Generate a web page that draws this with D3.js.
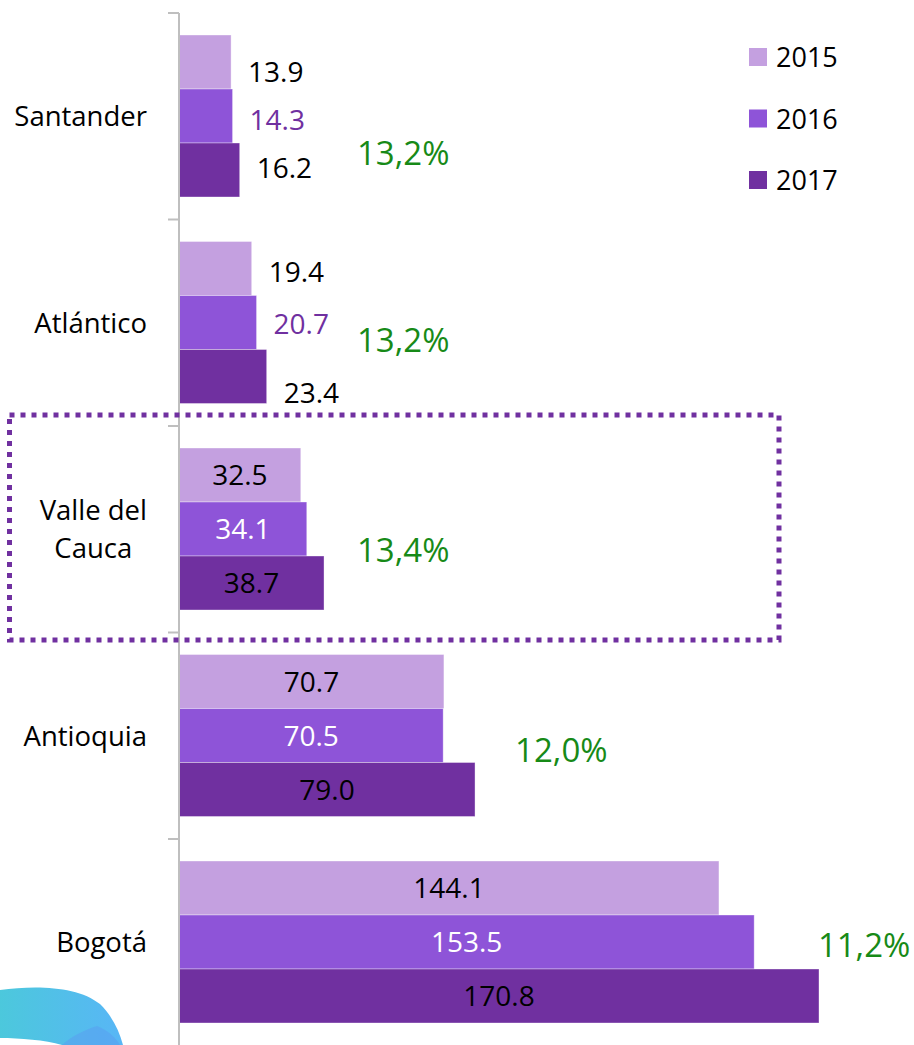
<!DOCTYPE html>
<html><head><meta charset="utf-8">
<script src="https://cdn.jsdelivr.net/npm/d3@7/dist/d3.min.js"></script>
<style>
html,body{margin:0;padding:0;background:#fff;}
svg{display:block;font-family:"Open Sans","Noto Sans",sans-serif;}
</style></head>
<body>
<svg id="chart" width="914" height="1045"></svg>
<script>
// ---- data ----
const categories = ["Santander", "Atlántico", "Valle del Cauca", "Antioquia", "Bogotá"];
const years = ["2015", "2016", "2017"];
const values2015 = [13.9, 19.4, 32.5, 70.7, 144.1];
const values2016 = [14.3, 20.7, 34.1, 70.5, 153.5];
const values2017 = [16.2, 23.4, 38.7, 79.0, 170.8];
const growthLabels = ["13,2%", "13,2%", "13,4%", "12,0%", "11,2%"];
const growthAt = [47.5, 47.5, 47.5, 89.7, 170.5]; // value position of growth label
const highlighted = "Valle del Cauca";

// ---- layout/style ----
const colors = {"2015": "#C4A0E0", "2016": "#8E54D8", "2017": "#7030A0"};
const green = "#178A17";
const svg = d3.select("#chart");

const defs = svg.append("defs");
const grad = defs.append("linearGradient").attr("id", "blob").attr("x1", "0").attr("x2", "1").attr("y1", "0").attr("y2", "0");
grad.append("stop").attr("offset", "0").attr("stop-color", "#4CC8DC");
grad.append("stop").attr("offset", "1").attr("stop-color", "#58B6F6");

// decorative blob bottom-left
svg.append("path")
  .attr("d", "M0,990 C35,985 78,986 100,1004 C112,1016 119,1030 123,1045 L62,1045 C45,1040 20,1038 0,1038 Z")
  .attr("fill", "url(#blob)");
svg.append("path")
  .attr("d", "M62,1045 C72,1036 84,1030 97,1026 C108,1030 116,1038 120,1045 Z")
  .attr("fill", "#5A9FF0").attr("opacity", 0.55);

const x = d3.scaleLinear().domain([0, 170.8]).range([179, 819]);
const y = d3.scaleBand().domain(categories).range([13, 1045.5]).padding(0);
const bw = y.bandwidth();
const inner = d3.scaleBand().domain(years).range([22, bw - 22.5]).padding(0);

const rows = categories.map((c, i) => ({
  cat: c, i,
  vals: [values2015[i], values2016[i], values2017[i]]
}));

// bars
const g = svg.append("g");
rows.forEach(r => {
  years.forEach((yr, j) => {
    g.append("rect")
      .attr("x", x(0))
      .attr("y", y(r.cat) + inner(yr))
      .attr("width", x(r.vals[j]) - x(0))
      .attr("height", inner.bandwidth())
      .attr("fill", colors[yr])
      .attr("stroke", "rgba(255,255,255,0.45)")
      .attr("stroke-width", 0.8);
  });
});

// axis
const axis = svg.append("g").attr("transform", `translate(${x(0)},0)`)
  .call(d3.axisLeft(y).tickValues([]).tickSize(0).tickSizeOuter(0));
axis.select(".domain").remove();
svg.append("line").attr("x1", x(0)).attr("x2", x(0)).attr("y1", 13).attr("y2", 1045)
  .attr("stroke", "#BFBFBF").attr("stroke-width", 2);
categories.forEach(c => {
  svg.append("line").attr("x1", x(0) - 11).attr("x2", x(0)).attr("y1", y(c)).attr("y2", y(c))
    .attr("stroke", "#BFBFBF").attr("stroke-width", 2);
});

// category labels
const labelRight = 147;
rows.forEach(r => {
  const cy = y(r.cat) + bw / 2;
  if (r.cat === "Valle del Cauca") {
    const t = svg.append("text").attr("font-size", 27.5).attr("fill", "#000").attr("text-anchor", "middle");
    const l1 = t.append("tspan").text("Valle del").attr("y", cy - 9.5);
    const l2 = t.append("tspan").text("Cauca").attr("y", cy + 28.5);
    const w = l1.node().getComputedTextLength();
    l1.attr("x", labelRight - w / 2);
    l2.attr("x", labelRight - w / 2);
  } else {
    svg.append("text").attr("x", labelRight).attr("y", cy + 10).attr("font-size", 27.5)
      .attr("text-anchor", "end").attr("fill", "#000").text(r.cat);
  }
});

// value labels
const outsideDy = {
  "Santander": [20, 14, 8],
  "Atlántico": [13, 11, 26]
};
rows.forEach(r => {
  years.forEach((yr, j) => {
    const by = y(r.cat) + inner(yr) + inner.bandwidth() / 2;
    const v = r.vals[j];
    const txt = v.toFixed(1);
    if (outsideDy[r.cat]) {
      svg.append("text").attr("x", x(v) + 17).attr("y", by + outsideDy[r.cat][j])
        .attr("font-size", 28).attr("fill", yr === "2016" ? "#7030A0" : "#000").text(txt);
    } else {
      svg.append("text").attr("x", (x(0) + x(v)) / 2).attr("y", by + 10)
        .attr("text-anchor", "middle").attr("font-size", 28)
        .attr("fill", yr === "2016" ? "#fff" : "#000").text(txt);
    }
  });
});

// growth labels
const growthDy = [37, 18, 21, 15, 3];
rows.forEach((r, i) => {
  svg.append("text").attr("x", x(growthAt[i])).attr("y", y(r.cat) + bw / 2 + 11.5 + growthDy[i])
    .attr("font-size", 33).attr("fill", green).text(growthLabels[i]);
});

// highlight box
const hy = y(highlighted);
svg.append("rect").attr("x", 9.5).attr("y", hy - 11).attr("width", 769.5).attr("height", 225)
  .attr("fill", "none").attr("stroke", "#7030A0").attr("stroke-width", 5)
  .attr("stroke-dasharray", "5 6");

// legend
const lg = svg.append("g");
years.forEach((yr, j) => {
  const cy = 57 + j * 61.5;
  lg.append("rect").attr("x", 749).attr("y", cy - 9).attr("width", 18).attr("height", 18).attr("fill", colors[yr]);
  lg.append("text").attr("x", 776).attr("y", cy + 10).attr("font-size", 27).attr("fill", "#000").text(yr);
});
</script>
</body></html>
